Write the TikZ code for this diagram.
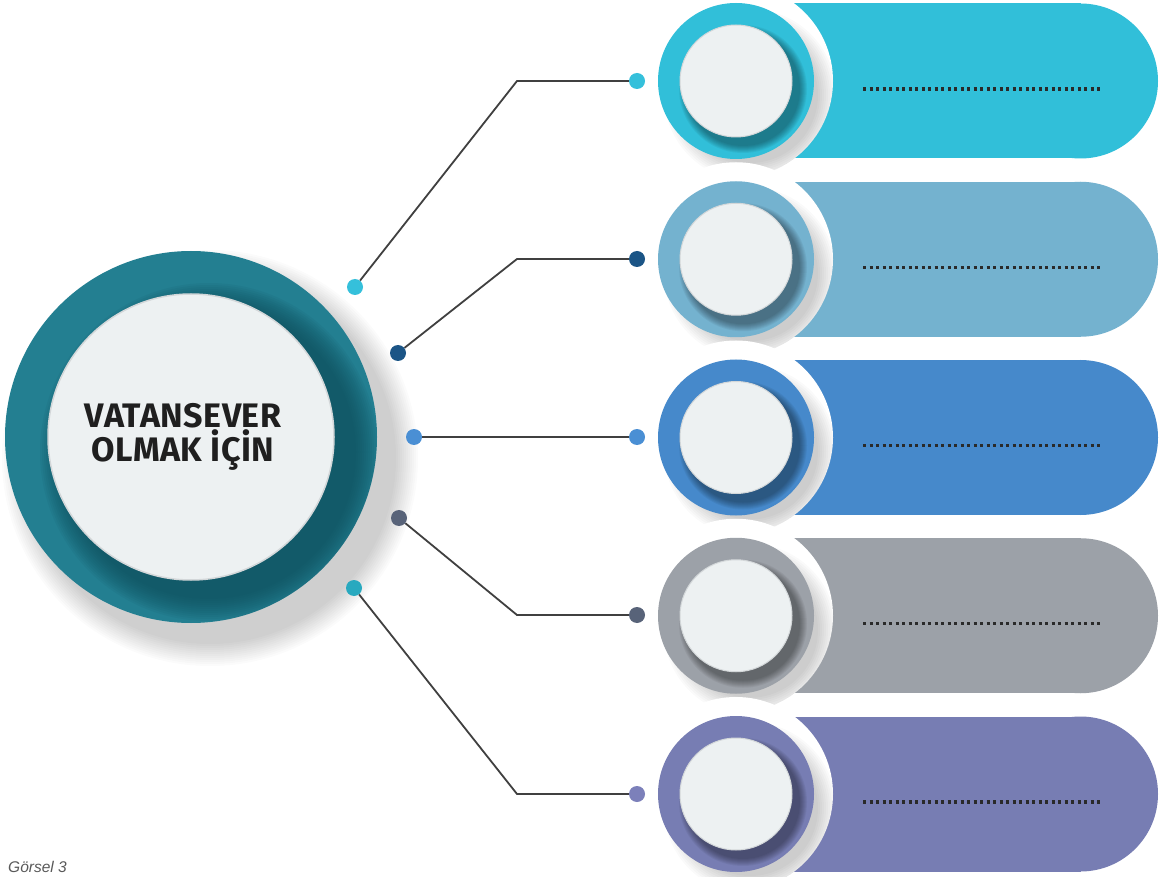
\documentclass[tikz,border=0pt]{standalone}
\usepackage{fontspec}
\setmainfont{Fira Sans}
\newfontfamily\capfont{Liberation Sans}
\definecolor{cA}{HTML}{31BFD9}
\definecolor{cB}{HTML}{74B2CF}
\definecolor{cC}{HTML}{4689CB}
\definecolor{cD}{HTML}{9CA1A8}
\definecolor{cE}{HTML}{777DB3}
\definecolor{tealc}{HTML}{237F91}
\definecolor{tealdark}{HTML}{0E4C59}
\definecolor{diskc}{HTML}{EDF1F2}
\definecolor{rimc}{HTML}{D3D7D9}
\definecolor{linec}{HTML}{404040}
\definecolor{dotc}{HTML}{2A2A2A}
\definecolor{pA}{HTML}{35C0DB}
\definecolor{pB}{HTML}{1B5586}
\definecolor{pC}{HTML}{4A8FD4}
\definecolor{pD}{HTML}{586379}
\definecolor{pE}{HTML}{7C80BA}
\definecolor{pF}{HTML}{29A9BF}
\tikzset{
  pin/.style={circle, inner sep=0pt, minimum size=16pt},
  link/.style={draw=linec, line width=1.8pt},
  fillline/.style={draw=dotc, line width=3.2pt, dash pattern=on 3.2pt off 3.3pt},
  disk/.style={circle, inner sep=0pt, fill=diskc, draw=rimc, line width=1pt},
}
\begin{document}
\begin{tikzpicture}[x=1pt,y=-1pt]
\useasboundingbox[fill=white] (0,0) rectangle (1160,877);
% ---- central circle soft shadow
\foreach \k in {0,...,11}
  \fill[black, opacity=0.014] (210,458) circle[radius={(186+22-2*\k)*1pt}];
\fill[tealc] (191,437) circle[radius=186pt];
\begin{scope}
  \clip (191,437) circle[radius=186pt];
  \foreach \k in {0,...,11}
    \fill[tealdark, opacity=0.085] (209,452) circle[radius={(143+26-2*\k)*1pt}];
\end{scope}
\node[disk, minimum size=286pt, draw=rimc, line width=1.5pt] (main) at (191,437) {};
\node[align=center, font=\bfseries\fontsize{34}{30}\selectfont\addfontfeatures{LetterSpace=1.5}, text=black!88] (title) at (183,437) {VATANSEVER\\OLMAK İÇİN};
% ---- rows
\foreach \y/\c/\n in {81/cA/1, 259.25/cB/2, 437.5/cC/3, 615.75/cD/4, 794/cE/5}{
  \fill[\c] (736,\y-77.5) rectangle (1080.5,\y+77.5);
  \fill[\c] (1080.5,\y) circle[radius=77.5pt];
  \fill[white] (736,\y) circle[radius=97pt];
  \begin{scope}
    \clip (736,\y) circle[radius=97pt];
    \foreach \k in {0,...,9}
      \fill[black, opacity=0.02] (750,\y+14) circle[radius={(78+8-2*\k)*1pt}];
  \end{scope}
  \fill[\c] (736,\y) circle[radius=78pt];
  \begin{scope}
    \clip (736,\y) circle[radius=78pt];
    \foreach \k in {0,...,7}
      \fill[black, opacity=0.05] (743,\y+8) circle[radius={(56+8-\k)*1pt}];
  \end{scope}
  \node[disk, minimum size=112pt] (d\n) at (736,\y) {};
  \coordinate (fa\n) at (863,\y+8);
  \coordinate (fb\n) at (1103,\y+8);
  \draw[fillline] (fa\n) -- (fb\n);
}
% ---- connectors
\node[pin, fill=pA] (r1) at (637,81) {};
\node[pin, fill=pB] (r2) at (637,259) {};
\node[pin, fill=pC] (r3) at (637,437) {};
\node[pin, fill=pD] (r4) at (637,615) {};
\node[pin, fill=pE] (r5) at (637,794) {};
\node[pin, fill=pA] (l1) at (355,287) {};
\node[pin, fill=pB] (l2) at (398,353) {};
\node[pin, fill=pC] (l3) at (414,437) {};
\node[pin, fill=pD] (l4) at (399,518) {};
\node[pin, fill=pF] (l5) at (354,588) {};
\coordinate (k1) at (517,81);
\coordinate (k2) at (517,259);
\coordinate (k4) at (517,615);
\coordinate (k5) at (517,794);
\draw[link] (r1) -- (k1) -- (l1);
\draw[link] (r2) -- (k2) -- (l2);
\draw[link] (r3) -- (l3);
\draw[link] (r4) -- (k4) -- (l4);
\draw[link] (r5) -- (k5) -- (l5);
% ---- caption
\node[anchor=base west, inner sep=0pt, font=\capfont\itshape\fontsize{15.5}{17}\selectfont, text=black!65] (cap) at (8,872) {Görsel 3};
\end{tikzpicture}
\end{document}
